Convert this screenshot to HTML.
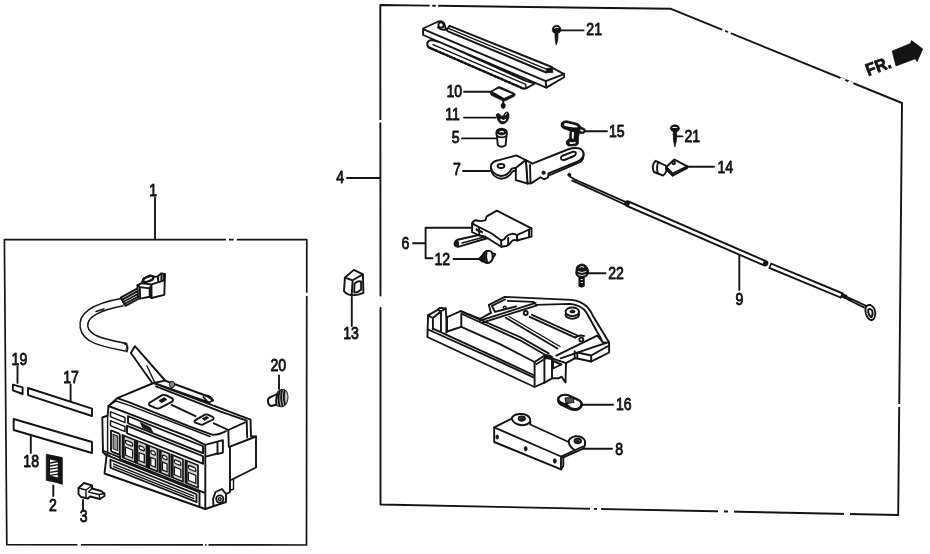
<!DOCTYPE html>
<html>
<head>
<meta charset="utf-8">
<title>Parts Diagram</title>
<style>
html,body{margin:0;padding:0;background:#fff;}
body{width:930px;height:554px;overflow:hidden;font-family:"Liberation Sans",sans-serif;}
svg{display:block;}
.l{fill:none;stroke:#141414;stroke-width:1.9;stroke-linecap:round;stroke-linejoin:round;}
.t{fill:none;stroke:#141414;stroke-width:1.45;stroke-linecap:round;stroke-linejoin:round;}
.b{fill:none;stroke:#141414;stroke-width:1.7;stroke-linecap:round;stroke-linejoin:round;}
.w{fill:#fff;stroke:#141414;stroke-width:1.9;stroke-linecap:round;stroke-linejoin:round;}
.k{fill:#141414;stroke:#141414;stroke-width:0.8;stroke-linejoin:round;}
.g{fill:#777;stroke:#141414;stroke-width:1;stroke-linejoin:round;}
text{font-family:"Liberation Sans",sans-serif;font-size:17.2px;fill:#141414;stroke:#141414;stroke-width:0.9;stroke-linejoin:round;}
</style>
</head>
<body>
<svg width="930" height="554" viewBox="0 0 930 554">
<rect x="0" y="0" width="930" height="554" fill="#fff"/>

<!-- ===== BORDERS ===== -->
<g id="borders">
<path class="b" stroke-width="1.9" d="M6.8 544.6 L4.4 239.6 L306.8 239.6 L306.5 545 L6.8 544.6 Z"/>
<path class="l" stroke-width="2.2" d="M380.5 295.5 L380.3 5 L429 5.6 M433 5.7 L435 5.7 M439 5.8 L671 8.8 L902 103 L898.2 515 L380.5 504.5 L380.5 308"/>
</g>
<g id="gaps" stroke="#fff" stroke-width="4" fill="none">
<path d="M226 239.6 L229 239.6 M233.6 239.6 L236.8 239.6"/>
<path d="M306.7 292.7 L306.7 296"/>
<path d="M77.4 544.7 L80.9 544.7 M203 544.9 L205 544.9 M206.5 544.9 L208.5 544.9"/>
<path d="M722 30.5 L725 31.7 M727.5 32.8 L730.5 34 M840 79 L845 81 M848 82.3 L853 84.4"/>
<path d="M899.3 404 L899.2 407"/>
<path d="M590 508.8 L594 508.9 M597 509 L601 509 M718 511.4 L724 511.5 M728 511.6 L734 511.7 M844 514 L850 514.1"/>
<path d="M380.4 120 L380.4 122.5"/>
</g>

<!-- ===== LABELS + LEADERS ===== -->
<g id="labels" style="opacity:0.995">
<text transform="translate(149.2 196.0) scale(.82 1)">1</text>
<text transform="translate(49.0 511.0) scale(.82 1)">2</text>
<text transform="translate(79.8 522.0) scale(.82 1)">3</text>
<text transform="translate(336.2 183.2) scale(.82 1)">4</text>
<text transform="translate(451.7 143.0) scale(.82 1)">5</text>
<text transform="translate(401.6 248.8) scale(.82 1)">6</text>
<text transform="translate(452.9 175.2) scale(.82 1)">7</text>
<text transform="translate(615.2 455.0) scale(.82 1)">8</text>
<text transform="translate(735.4 305.0) scale(.82 1)">9</text>
<text transform="translate(446.5 97.2) scale(.82 1)">10</text>
<text transform="translate(445.2 119.8) scale(.82 1)">11</text>
<text transform="translate(434.4 264.8) scale(.82 1)">12</text>
<text transform="translate(343.2 339.0) scale(.82 1)">13</text>
<text transform="translate(717.5 173.2) scale(.82 1)">14</text>
<text transform="translate(608.9 136.8) scale(.82 1)">15</text>
<text transform="translate(615.9 410.4) scale(.82 1)">16</text>
<text transform="translate(63.2 383.0) scale(.82 1)">17</text>
<text transform="translate(23.3 467.0) scale(.82 1)">18</text>
<text transform="translate(11.6 364.8) scale(.82 1)">19</text>
<text transform="translate(270.5 371.0) scale(.82 1)">20</text>
<text transform="translate(586.3 35.0) scale(.82 1)">21</text>
<text transform="translate(684.5 142.0) scale(.82 1)">21</text>
<text transform="translate(608.2 278.6) scale(.82 1)">22</text>

<path class="l" stroke-width="2" d="M155 197.5 L155 239"/>
<path class="l" stroke-width="2" d="M53.3 485.5 L53.3 496"/>
<path class="l" stroke-width="2" d="M83 500 L83 509.5"/>
<path class="l" d="M347 178 L380 178"/>
<path class="l" d="M462 138.4 L496 138.4"/>
<path class="l" d="M413 243.3 L425.6 243.3 M474 227.8 L425.6 227.8 L425.6 258.2 L432.5 258.2"/>
<path class="l" d="M463 171 L490 171"/>
<path class="l" d="M583.5 448.7 L612 448.7"/>
<path class="l" stroke-width="2" d="M739.3 255.5 L739.3 290"/>
<path class="l" d="M464 91.7 L492 91.7"/>
<path class="l" d="M464 117.6 L496 117.6"/>
<path class="l" d="M453.5 259 L481 259"/>
<path class="l" stroke-width="2" d="M351.8 297 L351.8 326"/>
<path class="l" d="M688 166.8 L714 166.8"/>
<path class="l" d="M585.5 131.3 L607 131.3"/>
<path class="l" d="M582.5 404.8 L613 404.8"/>
<path class="l" stroke-width="2" d="M70.6 384.5 L70.6 402"/>
<path class="l" stroke-width="2" d="M30.8 434 L30.8 453"/>
<path class="l" stroke-width="2" d="M17.5 366.5 L17.5 383"/>
<path class="l" stroke-width="2" d="M279 375.5 L279 389"/>
<path class="l" d="M561.5 30.4 L583.5 30.4"/>
<path class="l" d="M676 136.4 L682.5 136.4"/>
<path class="l" d="M589 273.2 L605.5 273.2"/>
</g>

<!-- 01_leftsmall.svg -->
<g id="left-small">
<!-- 19 -->
<path class="w" stroke-width="2" d="M12.9 384.7 L22.6 387.3 L22.6 394 L12.9 390.3 Z"/>
<!-- 17 -->
<path class="w" stroke-width="2.1" d="M28 388 L92 408.6 L92 416 L28 395.2 Z"/>
<!-- 18 -->
<path class="w" stroke-width="2.1" d="M13.7 419 L92 442 L92 453 L13.7 430 Z"/>
<!-- 2 -->
<path class="k" d="M46.3 454.3 L62.3 457.6 L62.3 484.3 L46.3 480.3 Z" stroke-width="1.6"/>
<path d="M50 459.5 L57.8 461.2 L57.8 477.5 L50 475.5 Z" fill="#fff"/>
<path d="M50 463 L58 461.5 M50 466 L58 464.7 M50 469.2 L58 467.8 M50 472.4 L58 471 M50 475.4 L58 474.2" stroke="#141414" stroke-width="1.3" fill="none"/>
<path d="M50.5 482 L58.5 484" stroke="#fff" stroke-width="0.9"/>
<!-- 3 -->
<path class="w" d="M78.5 488 L84 483 L92 485.5 L92 488.5 L101 491 L104.5 493.5 L104.5 496 L100 499 L90 496.5 L88 498.5 L81 497 L78.5 494 Z"/>
<path class="t" d="M78.5 488 L86 490 L92 485.5 M86 490 L86 497.5 M92 488.5 L88.5 492 L99 494.5 L104.5 493.5 M99 494.5 L100 499"/>
<!-- 20 -->
<path class="w" d="M268 402 Q267 398 272 396.5 L277 394 Q279 389.5 284 390 Q287.5 391.5 287.5 397 Q287.5 404 283 406 Q279 407 276.5 404.5 L271.5 406 Q268.5 405.5 268 402 Z"/>
<path d="M277.5 393.5 Q280 389.8 284 390 Q287.5 391.5 287.5 397 Q287.5 404 283 406 Q279 407 277 404.8 Q276 399 277.5 393.5 Z" fill="#c8c8c8"/>
<path class="l" stroke-width="1.5" d="M277 394 Q275.5 400 276.5 404.5 M279.5 391.5 Q277.5 398 279.5 405.5 M282 390.5 Q280 398 282.5 406 M284.5 391 Q283 398 285 404.5"/>
</g>

<!-- 02_harness.svg -->
<g id="harness">
<path class="w" d="M134.9 346.2 L130.9 353 L153.6 385 L166 381.5 Z"/>
<path class="t" d="M147 366 L154.5 382"/>
<path class="w" d="M165 380.6 L171.5 383 L207 396 L213 400.5 L209 402.5 L153.6 383 Z"/>
<ellipse cx="172" cy="384.5" rx="2.6" ry="3.3" fill="#888" stroke="#141414" stroke-width="1"/>
<path class="l" d="M206 395.5 Q211 396 213 400.5 M203.5 397 L207.5 401.8"/>
<path d="M123 302 C 100 306 82 314 84 327 C 86 340 105 343 126.5 347.5" fill="none" stroke="#141414" stroke-width="9.2" stroke-linecap="butt"/>
<path d="M123.2 302 C 100 306 82 314 84 327 C 86 340 105 343 126 347.4" fill="none" stroke="#fff" stroke-width="6.2" stroke-linecap="butt"/>
<path class="l" d="M124.5 343.5 Q129 345 126.8 351.5"/>
<path class="t" d="M96 311.5 L104 309"/>
<path class="w" d="M120.8 297.6 L138.9 287.6 L141 297.5 L125.5 305.8 Z"/>
<path class="l" d="M121.8 299.8 L139.2 290.3 M123 302 L139.8 293 M124.3 304 L140.3 295.6" stroke-width="1.5"/>
<path class="w" d="M137.5 285.3 L141.6 283.2 L143.5 278.5 L150 275.3 L154 276.8 L157.8 276.5 L161 273.4 L165 274 L164.3 294.8 L151.5 298 L149.7 296.8 L140.2 298.6 L138 296.2 Z"/>
<path class="l" d="M137.5 285.3 L139.8 287.1 L149.7 288.4 L149.7 296.8 M139.8 287.1 L140.2 298.6 M149.7 288.4 L151.5 284.4 L151.5 298 M151.5 284.4 L164.2 280.3 M141.6 283.2 L151.5 284.4 M157.8 276.5 L158.3 282 M161.5 273.8 L161.3 281"/>
<path d="M143.2 280.8 Q143 278.6 146 277.5 L150.5 275.8 Q153.5 275.6 153.3 278 Q153 279.6 151 280.3 L146.5 282 Q143.6 282.6 143.2 280.8 Z" fill="#fff" stroke="#141414" stroke-width="2.3"/>
<path class="k" d="M163 274.5 L165 274.3 L164.6 280 L163 280.5 Z"/>
</g>

<!-- 03_unit.svg -->
<g id="unit">
<path class="w" d="M108.5 406 L117.3 398.1 L153.6 383 L250.5 419.6 L251 436.4 L256 436.5 L256 467.5 L230 480.5 L230 492 L226 494 L226 502 L205.3 509 L104.5 473.5 L106.7 454.5 L103 452.5 L102.3 417.5 L107.6 415.6 Z"/>
<path class="l" d="M108.5 406 L130 414.1 L190 437.3 L205.3 444.8 L205.3 509"/>
<path class="l" d="M117.3 398.1 L130 402.7 L190 426.7 L212 434.6 Q218 435.5 226 431.2"/>
<path class="t" d="M116 401 L130 405.6 L190 428.7 L210 436.5"/>
<path class="t" d="M108.5 406 L116 401"/>
<path class="l" d="M156 386.3 L220 411.4 L246.7 420.7 L247.2 437.5"/>
<path class="l" d="M228.3 430 L245 422.3 M228.3 430 L228.8 446.7 M205.3 444.8 L222.9 440.2 M230 446.7 L256 436.5 M230 446.7 L230 480.5 M222.9 440.2 L222.9 452.6 L217.5 454 L217.5 442 M206.6 456.4 L217.5 453.5"/>
<path class="w" stroke-width="3" d="M149.5 402.8 L162.1 395.1 Q163.9 394.5 166.4 395.3 L171.8 398.1 Q173.8 399.6 172.3 401.6 L159.7 408.2 Q157.9 408.8 155.9 408.2 L150.0 405.7 Q148.2 404.2 149.5 402.8 Z"/>
<path class="k" stroke-width="2" d="M158.9 400.5 l5.5 -2.9 l2.5 2.0 l-5.5 3.1 Z"/>
<path class="w" stroke-width="3" d="M195.0 420.4 L205.0 414.6 Q206.4 414.0 208.4 414.8 L212.5 416.8 Q214.5 418.0 213.0 419.5 L203.0 424.4 Q201.6 425.0 200.0 424.4 L195.5 422.6 Q193.7 421.5 195.0 420.4 Z"/>
<path class="k" stroke-width="2" d="M202.4 418.6 l4.4 -2.2 l2.0 1.5 l-4.4 2.4 Z"/>
<path class="l" d="M171.6 404.9 L195.5 416.2 M213.9 423.3 L228.3 430"/>
<path class="t" d="M107.6 415.6 L107.6 454 M106.7 454.5 L110 456"/>
<path class="l" d="M226 494 L222 489 L215.5 492 L213 499 L213.5 506"/>
<circle class="w" cx="219.8" cy="499" r="3.6"/><circle class="t" cx="219.8" cy="499" r="1.4"/>
<path class="t" d="M233.5 479 L233.5 489 L230 490.5"/>
<g transform="matrix(1 0.4 0 1 107.5 405.5)">
<rect class="t" x="3" y="5" width="14.5" height="5"/>
<rect class="t" x="3" y="14" width="14.5" height="5"/>
<rect class="l" x="20.5" y="2.5" width="75" height="7"/>
<path class="k" d="M33 4 l10 1 l2 3.5 l-10 -0.6 Z"/>
<rect class="l" x="19.5" y="12.5" width="76" height="7.5"/>
<rect class="l" x="3.5" y="23.5" width="8.8" height="21" rx="1"/>
<rect x="5.6" y="26.5" width="4.6" height="14.5" fill="#999" stroke="#141414" stroke-width="1"/>
<rect x="15.0" y="23.5" width="12.3" height="22.5" fill="#d4d4d4" stroke="#141414" stroke-width="1.7"/>
<rect x="18.0" y="27.3" width="7.1" height="3.6" rx="1.5" fill="#fff" stroke="#141414" stroke-width="1.3"/>
<rect x="18.0" y="34.5" width="7.1" height="8" fill="#fff" stroke="#141414" stroke-width="1.3"/>
<path d="M15.9 24 L15.9 46" stroke="#141414" stroke-width="2.6"/>
<rect x="28.5" y="23.5" width="10.5" height="22.5" fill="#d4d4d4" stroke="#141414" stroke-width="1.7"/>
<rect x="31.5" y="27.3" width="5.3" height="3.6" rx="1.5" fill="#fff" stroke="#141414" stroke-width="1.3"/>
<rect x="31.5" y="34.5" width="5.3" height="8" fill="#fff" stroke="#141414" stroke-width="1.3"/>
<path d="M29.4 24 L29.4 46" stroke="#141414" stroke-width="2.6"/>
<rect x="40.3" y="23.5" width="9.8" height="22.5" fill="#d4d4d4" stroke="#141414" stroke-width="1.7"/>
<rect x="43.3" y="27.3" width="4.6" height="3.6" rx="1.5" fill="#fff" stroke="#141414" stroke-width="1.3"/>
<rect x="43.3" y="34.5" width="4.6" height="8" fill="#fff" stroke="#141414" stroke-width="1.3"/>
<path d="M41.2 24 L41.2 46" stroke="#141414" stroke-width="2.6"/>
<rect x="52.0" y="23.5" width="9.8" height="22.5" fill="#d4d4d4" stroke="#141414" stroke-width="1.7"/>
<rect x="55.0" y="27.3" width="4.6" height="3.6" rx="1.5" fill="#fff" stroke="#141414" stroke-width="1.3"/>
<rect x="55.0" y="34.5" width="4.6" height="8" fill="#fff" stroke="#141414" stroke-width="1.3"/>
<path d="M52.9 24 L52.9 46" stroke="#141414" stroke-width="2.6"/>
<rect x="63.8" y="23.5" width="11.7" height="22.5" fill="#d4d4d4" stroke="#141414" stroke-width="1.7"/>
<rect x="66.8" y="27.3" width="6.5" height="3.6" rx="1.5" fill="#fff" stroke="#141414" stroke-width="1.3"/>
<rect x="66.8" y="34.5" width="6.5" height="8" fill="#fff" stroke="#141414" stroke-width="1.3"/>
<path d="M64.7 24 L64.7 46" stroke="#141414" stroke-width="2.6"/>
<rect x="77.9" y="23.5" width="12.6" height="22.5" fill="#d4d4d4" stroke="#141414" stroke-width="1.7"/>
<rect x="80.9" y="27.3" width="7.4" height="3.6" rx="1.5" fill="#fff" stroke="#141414" stroke-width="1.3"/>
<rect x="80.9" y="34.5" width="7.4" height="8" fill="#fff" stroke="#141414" stroke-width="1.3"/>
<path d="M78.8 24 L78.8 46" stroke="#141414" stroke-width="2.6"/>
<path class="l" d="M-4 47 L12.5 47 M12.5 45 L12.5 48.5 L97 48.5"/>
<path class="l" d="M-3 50 L92 50 L92 63.5"/>
<rect class="l" x="3" y="53" width="86" height="8"/>
<path class="t" d="M6 56 L86 56 M6 58.5 L86 58.5"/>
</g>
</g>
<!-- 10_rails.svg -->
<g id="rails">
<!-- lower rail -->
<path class="w" stroke-width="1.9" d="M432 40 Q427 40.5 427.2 44.5 Q427.8 48 431 48.3 L523.5 88.7 L526 88.3 L535 83.5 L525.7 80.8 L440 42 Z"/>
<path class="t" d="M433 44.6 L525.7 84.4 L526 88.3"/>
<path d="M431 48.3 L523.5 88.7" stroke="#141414" stroke-width="2.4" stroke-dasharray="3.2 0.8" fill="none"/>
<!-- upper plate -->
<path class="w" d="M423.1 28.5 L438.3 21.5 Q442.5 20.6 444.3 23.8 Q445.2 27.5 446.4 30.2 L449.6 25.8 L551.7 67 L553.9 68.7 L564.1 74.1 L564.1 77.3 L546.3 87.6 L423.1 35 Z"/>
<path class="l" d="M424.2 29.6 L545.7 81.1 L564.1 74.1 M545.7 81.1 L546.3 87.6"/>
<path class="l" d="M447.5 31.2 L546.3 72.5"/>
<path class="t" d="M449 28.6 L546.3 69.2"/>
<path class="k" d="M546.3 68.7 L552.5 67.5 L552.8 72.5 L546.3 72.7 Z"/>
<circle class="l" cx="441" cy="25" r="2.6"/>
<path class="l" d="M438 27.3 Q441 30.5 445.5 29.5" stroke-width="2"/>
</g>
<g id="screw21a">
<path class="k" d="M552.3 30.5 Q552.2 25.5 556.5 25.3 Q561 25.5 561 30.5 Q560 33.5 556.6 33.6 Q553 33.5 552.3 30.5 Z"/>
<path d="M554.3 28.3 Q556 26.8 558.5 27.6" stroke="#fff" stroke-width="1" fill="none"/>
<path class="k" d="M555 33.5 L558 33.5 L557.8 40 L556.2 45 L555.2 40 Z"/>
</g>
<g id="screw21b">
<path class="k" d="M670.3 128.8 Q670.5 125 674.6 124.8 Q679.3 125 679.5 128.8 Q679 131.6 675 131.8 Q671 131.8 670.3 128.8 Z"/>
<path d="M672.6 127.5 L676.8 127.5" stroke="#fff" stroke-width="1" fill="none"/>
<path class="k" d="M673.3 131.5 L676.7 131.5 L676.3 141 L674.8 147 L673.6 141 Z"/>
<path d="M672.5 134.5 L677.2 135.5 M672.8 138 L677 139" stroke="#141414" stroke-width="1"/>
</g>
<g id="p10">
<path class="k" d="M490.8 91.3 L498 87 Q499.3 86.5 500.6 87.1 L514.5 93.3 Q516 94.5 514.5 96.2 L505.8 100.6 Q504 101.3 502.4 100.6 L491.2 95.2 Q489.8 93 490.8 91.3 Z"/>
<path d="M492.8 91.6 L498.7 88.6 L512.6 94.2 L504 98 Z" fill="#fff"/>
<path class="l" d="M503.2 101 L503.2 103.5"/>
<path class="k" d="M501 104.5 Q503.2 102 505.4 104.5 L504.8 107.6 Q503.2 109.5 501.6 107.6 Z"/>
</g>
<g id="p11">
<path class="k" d="M496.2 114.5 Q498 112.3 500 114.8 Q501.5 117.2 503.5 115.5 Q504.5 112.3 507.3 111.8 Q509.8 113.5 508.8 117.5 Q508 121.8 504.5 123.6 Q501.5 124.6 499.3 122.6 Q497.4 120.5 496.2 114.5 Z"/>
<path d="M500.5 119.3 Q503 121.8 505.8 119.6" stroke="#fff" stroke-width="1.3" fill="none"/>
<path d="M505 115.2 L507 113.4" stroke="#fff" stroke-width="1" fill="none"/>
</g>
<g id="p5">
<path class="w" stroke-width="1.9" d="M496.3 133.2 Q496.4 128.8 501.6 128.7 Q506.8 128.8 507 133.2 L506.4 136.5 L505.6 145.2 Q501.5 148.3 497.8 145.2 L497 136.5 Z"/>
<path class="k" d="M497 133 Q497.5 129.5 501.6 129.4 Q505.8 129.5 506.3 133 Q501.6 137 497 133 Z"/>
<path d="M499.5 132.3 Q501.6 130.5 503.8 132.3" stroke="#fff" stroke-width="1.1" fill="none"/>
<path class="l" d="M497 136 Q501.6 138.8 506.4 136"/>
</g>

<!-- 11_bracket7.svg -->
<g id="p7">
<!-- arm (right) -->
<path class="w" d="M532.3 163.7 L567.8 149.5 Q576 146.8 581 149.2 Q585.3 152.5 582.5 157.6 Q581 160 578 161.3 L548.5 173.5 L548 177.5 L544 179.3 L540.5 177.3 L531 183.4 L527.5 183.5 L525.8 160.1 Z"/>
<path class="l" d="M530 165 L530.5 183.4 M583.6 154 Q584 158.5 580.5 161.8 L549 175.5"/>
<path class="w" stroke-width="2.4" d="M562 156 L572.5 151.8 Q576.3 151.3 575.8 153.8 Q575.5 155.3 574 156 L564.5 160 Q560.5 160.3 561 157.5 Q561.2 156.5 562 156 Z"/>
<circle class="k" cx="543.6" cy="172.8" r="1.7"/>
<!-- vertical step -->
<path class="w" d="M515.8 167.8 L525.8 160.1 L527.5 183.5 L515.8 180.2 Z"/>
<!-- left rounded plate -->
<path class="w" d="M490.8 166.5 Q491.5 161.5 498 160.3 L516.4 155.4 L525.8 160.1 L515.8 167.8 L511.6 168.6 Q508.5 175.5 501 176 Q491.5 174.5 490.8 166.5 Z"/>
<path class="l" d="M491 168.5 Q492 177.5 501 178.8 Q508.5 178.3 512.5 171.5 L515.8 170.3" stroke-width="2"/>
<ellipse class="l" cx="501" cy="166" rx="3.4" ry="2"/>
</g>
<g id="p15">
<path class="k" d="M561 124 Q562.3 120.5 566.5 120.7 L576 123 Q579.8 123.9 580.7 126.8 L584.7 128.8 Q586.3 131 584.5 132.9 Q581.5 134.2 579.3 133 L578.6 136.5 L578.3 141.5 Q579.2 144.5 576 145.8 L568.5 146 Q565.6 144.8 566.3 141.3 L569.6 138 L570.2 131 L563.3 128.5 Q560.5 127 561 124 Z"/>
<path d="M563.8 124.3 Q565 122.8 567.5 123.2 L575 125 Q577.5 125.8 578 127.2 L574 127.6 L566 126.3 Q563.6 125.6 563.8 124.3 Z" fill="#fff"/>
<path d="M580.3 129.3 L583.5 130.5 Q583.8 131.6 582.5 131.7 L580.3 131 Z" fill="#fff"/>
<path d="M572 131.8 L574 132.3 L573.6 139 L571.8 138.3 Z" fill="#fff"/>
<path d="M569.5 143.5 Q572 144.6 575.5 143.3 L575.8 141.8 Q572 142.8 569.8 141.8 Z" fill="#fff"/>
</g>
<g id="p14">
<path class="w" stroke-width="1.9" d="M655.5 160.8 Q651 165.5 654 172 L663 175.5 Q667.5 172.5 666.5 166 Z"/>
<path class="l" d="M658.5 162 Q656 166.5 657.8 173.3"/>
<path class="w" stroke-width="2" d="M666.1 167.3 L674.2 159.4 L687.3 166.3 L687.3 167.8 L672.6 175.6 L666.1 169.2 Z"/>
<path class="l" d="M666.1 167.3 L672.6 173.5 L687.3 166.3 M672.6 173.5 L672.6 175.6"/>
<circle class="l" cx="673.6" cy="162.8" r="1.4" stroke-width="1.5"/>
</g>

<!-- 12_p6.svg -->
<g id="p6">
<!-- pin -->
<path class="w" d="M457.6 239.8 L485.4 233.5 L488 238 L458 246.8 Q454.5 246.5 454.5 243.8 Q455 240.5 457.6 239.8 Z"/>
<path class="t" d="M462 243 L486 236.5"/>
<path class="k" d="M457.4 240.2 Q460 243 458 246.6 Q454.6 246.4 454.5 243.8 Q455 240.6 457.4 240.2 Z"/>
<!-- body -->
<path class="w" d="M472.1 223.4 Q473 220.5 475.9 220.2 Q480 222 485.4 220.2 L486.7 216.4 L496.8 210.7 L531.5 228.4 L531.5 236.7 L517 240.5 Q513.5 239 511.5 241.5 Q509.5 245 506.5 246 L501.2 246.8 L485.4 236.7 L479.5 235.5 L472.1 232.2 Z"/>
<path class="l" d="M472.1 223.4 L479 227.2 L491.7 233.5 L501.2 240.5 L501.2 246.8 M501.2 240.5 L504.4 239.2 Q506 235.5 510.7 234.1 Q514 233 517 235.2 L525.9 231 L531.5 228.4 M517 235.2 L517 240.5 M508.2 238 L508.2 244.8 M479 227.2 L479.3 235.4 M529 229.8 L529 237"/>
<path class="k" d="M476 228.5 L482.5 231.5 L482.5 233 L476 230.3 Z"/>
</g>
<g id="p12">
<path class="w" stroke-width="2.4" d="M479 258.8 L482.8 254.8 Q484.5 251 488 250.6 Q491.5 250.8 492.3 253.2 L495.3 254.2 L492.7 258.2 Q492.3 261.5 489 262.8 Q485.5 263.4 484 261.6 L482.3 261.5 Z"/>
<path class="k" d="M479 258.8 L483.5 254.3 L484 261.6 L482.3 261.5 Z"/>
<path class="l" stroke-width="1.9" d="M484.5 253 Q483.6 257.5 485 261.8 M486.6 251.3 Q485.4 257 487.2 262.7 M492.3 253.2 L492.7 258.2"/>
</g>
<g id="p13">
<path class="w" stroke-width="1.8" d="M344.9 277.6 L353.9 269.9 L362.9 274.4 L363.4 292.9 Q358 295.5 351.7 295.2 Q346 294.5 344 291.1 Z"/>
<path class="l" d="M344.9 277.6 L352.6 280.3 L362.9 274.4 M352.6 280.3 L351.7 295.2"/>
<path class="l" d="M354.5 283.5 Q358 280.5 361 281.5 L361.2 289.5 Q358 292.8 354.2 292.6 Z"/>
</g>
<g id="p22">
<path class="k" d="M576 270.5 Q575.5 266 579 264.8 Q581.5 263.2 584.5 264.6 Q588 266.5 588.6 270.5 Q589 274 587 276 L584.3 277.5 L584.3 286.3 Q581.6 288 578.9 286.3 L578.9 277.5 L576.5 275.5 Q575.2 273.5 576 270.5 Z"/>
<path d="M579.5 267.5 Q581.8 265.8 584.2 267.3 M578 271.5 Q582 273.6 586.3 271.4 M578.3 274.7 Q582 276.4 585.8 274.6 M580.8 279.5 L582.8 279.5 M580.8 282.5 L582.8 282.5" stroke="#fff" stroke-width="0.9" fill="none"/>
</g>

<!-- 13_tray.svg -->
<g id="tray">
<!-- frame (upper right) -->
<path class="w" d="M480 318.8 L490.9 312.8 L488.9 304.9 L504.8 296.9 L571.3 299.9 Q581 301 587.2 306.8 Q591 311 593 316 L609.1 342.6 L609.1 352.5 L591.2 361.5 L577.3 358.5 L574.7 358.3 L566 363.1 L565.5 382.6 L561.7 376.7 L558.4 378.3 L552 378.3 L544.4 382.6 L534.6 387 L427.4 337 L428.1 315.3 L437.6 309.9 L439.6 307.9 L445.7 308.5 L446.4 317.5 L460.6 311.2 Z"/>
<!-- frame inner lines -->
<path class="l" d="M480 320.7 L535.6 302.9 M483 322.3 L537 305.3 M507.8 300.9 L533.6 301.9 M535.6 304.9 L570.3 303.9 Q579 305 584.3 309.8 Q587.5 313.5 589.5 318 L603.1 342.6"/>
<path class="l" d="M491.9 305.9 L505 299.5 M494.9 311.8 L491.9 305.9 M494.9 311.8 L516 306.5"/>
<circle class="t" cx="504.8" cy="307.6" r="1.4"/>
<circle class="l" cx="525.7" cy="313" r="2"/>
<!-- big boss -->
<ellipse class="w" cx="572.3" cy="314.5" rx="6.8" ry="4.3" stroke-width="1.8"/>
<ellipse class="w" cx="572.3" cy="311.8" rx="6.8" ry="4.3" stroke-width="1.8"/>
<ellipse class="k" cx="572.5" cy="311.5" rx="2.6" ry="1.5"/>
<!-- right lower bar -->
<path class="l" d="M556.3 355.6 L597.2 335.6 L603.1 342.6 M560.6 358.3 L607.1 342.6 M603.1 342.6 L609.1 342.6 M577.3 352.5 L577.3 358.5 M577.3 352.5 L591.2 355.5 L609.1 345.5 M591.2 355.5 L591.2 361.5 M574.7 351.2 L574.7 358.3"/>
<circle class="l" cx="581.3" cy="339.6" r="2"/>
<path class="l" d="M575.3 337.6 Q579 334.5 584 336 "/>
<!-- floor ribs -->
<path class="l" d="M505.8 317.8 L557.4 348.5 M529.6 316.8 L575.3 337.6 M532 314.8 L577.5 335.5"/>
<path class="t" d="M509 316.5 L560 346.5"/>
<!-- back wall top -->
<path class="l" d="M460.6 311.2 L520 337 L548.7 353.4 M462 314 L520 340.3 L545.5 355"/>
<!-- left wall inner face -->
<path class="l" d="M447 317.3 L447 331.5 L461.3 326.8 L461.3 314 M447 331.5 L446.4 332.2"/>
<!-- floor back edge -->
<path class="l" d="M461.3 326.8 L500 344.2 L534.6 362"/>
<!-- front rim -->
<path class="l" d="M433.5 328.8 L500 359.3 L533.5 375 M428.1 329.5 L500 361.8 L533.5 377.3"/>
<!-- left post -->
<path class="l" d="M428.1 315.3 L432.9 318 L441 311.2 M432.9 318 L432.9 329.5 M441 311.2 L441 331.5 M446.4 317.5 L446.4 332.2 M437.6 309.9 L441 311.2 L445.7 308.5"/>
<!-- right corner -->
<path class="l" d="M534.6 362 L534.6 387 M534.6 362 L545.5 355 M536.5 364 L547 357.5"/>
<!-- right post -->
<path class="l" d="M544.4 356 L544.4 382.6 M552 357 L552 378.3 M544.4 356 L552 357"/>
<path class="k" d="M545.5 354.5 L551 355.3 L551 359.5 L545.5 358.5 Z"/>
<path class="l" d="M552 358.3 L566 363.1 M553 361 L561.5 364.5 L553 368.5 Z"/>
</g>

<!-- 14_p8_16.svg -->
<g id="p16">
<path class="k" d="M557.3 400 Q556.8 396.8 560.5 395 Q564.5 393.3 569 394.8 L579.5 399.6 Q583.2 401.6 582.6 405.2 Q581.8 408.8 578 410.2 Q574 411.4 570.3 409.8 L560 405 Q557.3 403.2 557.3 400 Z"/>
<path d="M559.5 398.8 Q560 396.8 563 396 Q566.5 395.4 569.5 397 L571 397.8 L565 403.2 L560.5 401 Q559.3 400 559.5 398.8 Z" fill="#fff"/>
<path d="M567.5 404.2 L574.5 399.5 L579 401.6 Q580.8 403 580.2 405 Q579.5 407 577 407.8 Q574 408.4 571.5 407.2 Z" fill="#fff"/>
<path d="M565 398 L573 397.5 L574 402.5 L566 403.3 Z" fill="#555" stroke="#141414" stroke-width="1"/>
</g>
<g id="p8">
<path class="w" d="M494.2 427.4 L511.6 418.7 Q512.5 414.5 519.5 414 Q527.5 413.5 530 418.5 L530.3 424.5 L568.7 442 Q568.8 437.5 575.5 436.3 Q583 436 585 441 Q585.8 445.5 583.2 448.7 L563.3 457.4 L563.3 466 L561 469.4 L494.2 442 Z"/>
<path class="l" d="M494.2 427.4 L561 456.5 L561 469.4 M561 456.5 L563.3 457.4 M561 456.5 L583 446.5 M511.6 418.7 Q514 424.5 521.5 425.3 Q528.5 425 530.3 421.5 M568.7 442 Q569.5 446.5 574 449.5"/>
<ellipse class="l" cx="521.8" cy="418.6" rx="3.2" ry="2.1"/><ellipse class="k" cx="521.8" cy="418.8" rx="1.6" ry="1.1"/>
<ellipse class="l" cx="577.8" cy="441" rx="3.2" ry="2.2"/><ellipse class="k" cx="577.8" cy="441.2" rx="1.6" ry="1.2"/>
<ellipse class="k" cx="497.2" cy="437" rx="1.3" ry="2.1"/>
<ellipse class="k" cx="525.7" cy="448.7" rx="1.5" ry="2.2"/>
<ellipse class="k" cx="554.8" cy="461" rx="1.5" ry="2.3"/>
</g>

<!-- 15_cable9.svg -->
<g id="cable9">
<!-- inner wire from hook to sheath -->
<path class="l" d="M569.3 174.3 L570.5 177 L574.5 179.3 L627 202.7 M572.3 180.6 L626 205" stroke-width="1.3"/>
<circle class="k" cx="569.3" cy="174.8" r="1.6"/>
<!-- sheath segment 1 -->
<path d="M627.5 203.6 L765 263.2" stroke="#141414" stroke-width="6.6" stroke-linecap="round" fill="none"/>
<path d="M629.5 204.5 L763.2 262.4" stroke="#fff" stroke-width="2.7" stroke-linecap="butt" fill="none"/>
<!-- sheath segment 2 -->
<path d="M769.5 265.5 L842.5 295.8" stroke="#141414" stroke-width="6.6" stroke-linecap="butt" fill="none"/>
<path d="M771 266.1 L841.5 295.4" stroke="#fff" stroke-width="2.7" stroke-linecap="butt" fill="none"/>
<path d="M841 294.8 L846.5 297.3" stroke="#141414" stroke-width="4.4" fill="none"/>
<!-- thin end wire + ring -->
<path class="l" d="M845 296 L866.5 306 M845 298 L864 307.3" stroke-width="1.2"/>
<path class="w" stroke-width="2" d="M865.5 308 Q866.5 304.5 870.5 305 Q875 307 875.3 313.5 Q875 319.5 871.5 320.3 Q867.5 319 866 314 Q865.2 311 865.5 308 Z"/>
<path class="l" d="M868.3 309.5 Q870.5 308 872.3 311 Q873.3 315 871.3 317.3 Q869 316 868.3 312.5 Z"/>
</g>
<g id="fr">
<text transform="translate(868.3 76.3) rotate(-21) scale(.94 1.02)" style="font-size:17px;font-weight:bold;stroke-width:0.8">FR.</text>
<path class="k" d="M892.2 51.1 L910.6 43.5 L911.5 40.6 L922.7 48.9 L917.1 61.6 L915.3 58.7 L896 65.9 Z"/>
</g>


</svg>
</body>
</html>
